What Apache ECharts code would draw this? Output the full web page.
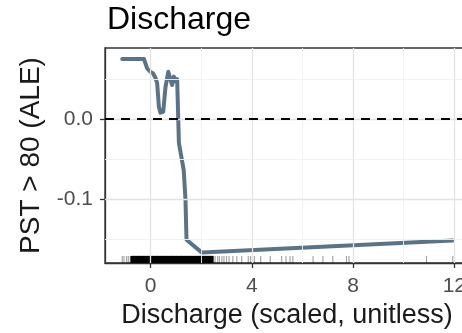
<!DOCTYPE html>
<html>
<head>
<meta charset="utf-8">
<script src="https://cdn.jsdelivr.net/npm/echarts@6/dist/echarts.min.js"></script>
<style>
  html, body { margin: 0; padding: 0; background: #fff; }
  #chart { width: 462px; height: 333px; }
</style>
</head>
<body>
<div id="chart"></div>
<script>
// Accumulated local effect of scaled discharge on P(PST > 80)
const dischargeX = [-1.12, -0.26, -0.13, 0, 0.1, 0.2, 0.26, 0.33, 0.39, 0.5, 0.59, 0.7, 0.79, 0.85, 0.92, 0.98, 1.05, 1.12, 1.31, 1.38, 1.42, 2.03, 11.94];
const aleY = [0.075, 0.075, 0.063, 0.059, 0.057, 0.051, 0.045, 0.015, 0.008, 0.009, 0.040, 0.059, 0.049, 0.0425, 0.053, 0.047, 0.05, -0.03, -0.064, -0.101, -0.151, -0.167, -0.152];

// Observed discharge values shown as a rug along the x axis
const rugDense = [-0.75, -0.7, -0.65, -0.6, -0.55, -0.5, -0.45, -0.4, -0.35, -0.3, -0.25, -0.2, -0.15, -0.1, -0.05, 0, 0.05, 0.1, 0.15, 0.2, 0.25, 0.3, 0.35, 0.4, 0.45, 0.5, 0.55, 0.6, 0.65, 0.7, 0.75, 0.8, 0.85, 0.9, 0.95, 1.0, 1.05, 1.1, 1.15, 1.2, 1.25, 1.3, 1.35, 1.4, 1.45, 1.5, 1.55, 1.6, 1.65, 1.7, 1.75, 1.8, 1.85, 1.9, 1.95, 2.0, 2.05, 2.1, 2.15, 2.2, 2.25, 2.3, 2.35, 2.4, 2.45];
const rugSparse = [-1.12, -1.05, -0.95, -0.88, -0.8, 2.55, 2.65, 2.72, 2.82, 2.9, 3.0, 3.1, 3.25, 3.41, 3.6, 3.86, 3.95, 4.1, 4.35, 4.73, 5.18, 5.35, 5.51, 5.62, 6.42, 6.81, 7.2, 7.74, 7.84, 10.9, 11.94];

// Tick and grid positions
const xTicks = [0, 4, 8, 12];
const xMinorGrid = [2, 6, 10];
const yTicks = [-0.1, 0];
const yMinorGrid = [-0.15, -0.05, 0.05];

const X_MIN = -1.8, X_MAX = 12.58;
const Y_MIN = -0.18, Y_MAX = 0.0888;
const RUG_Y = -0.1755;

const chart = echarts.init(document.getElementById('chart'), null, { renderer: 'canvas' });

const gridLine = (c, w) => ({ lineStyle: { color: c, width: w, type: 'solid' } });

const gridMarks = [
  ...xMinorGrid.map(v => ({ xAxis: v, ...gridLine('#f0f0f0', 0.9) })),
  ...yMinorGrid.map(v => ({ yAxis: v, ...gridLine('#f0f0f0', 0.9) })),
  ...xTicks.map(v => ({ xAxis: v, ...gridLine('#e3e3e3', 1.3) })),
  ...yTicks.map(v => ({ yAxis: v, ...gridLine('#e3e3e3', 1.3) }))
];

chart.setOption({
  animation: false,
  backgroundColor: '#ffffff',
  title: {
    text: 'Discharge',
    left: 102,
    top: -1,
    textStyle: { fontFamily: 'Liberation Sans', fontSize: 32, fontWeight: 'normal', color: '#000' }
  },
  grid: {
    left: 105, top: 48, width: 364, height: 215,
    outerBoundsMode: 'none',
    show: true, borderColor: '#333333', borderWidth: 1.3, backgroundColor: '#fff'
  },
  xAxis: {
    type: 'value', min: X_MIN, max: X_MAX,
    name: 'Discharge (scaled, unitless)',
    nameLocation: 'middle', nameGap: 39,
    nameTextStyle: { fontFamily: 'Liberation Sans', fontSize: 27, color: '#1a1a1a' },
    axisLine: { show: true, onZero: false, lineStyle: { color: '#333333', width: 1.3 } },
    axisTick: { show: true, length: 5, customValues: xTicks, lineStyle: { color: '#333333', width: 1.3 } },
    axisLabel: { customValues: xTicks, margin: 13, fontFamily: 'Liberation Sans', fontSize: 21, color: '#4d4d4d' },
    splitLine: { show: false }
  },
  yAxis: {
    type: 'value', min: Y_MIN, max: Y_MAX,
    name: 'PST > 80 (ALE)',
    nameLocation: 'middle', nameGap: 60,
    nameTextStyle: { fontFamily: 'Liberation Sans', fontSize: 28, color: '#1a1a1a' },
    axisLine: { show: true, onZero: false, lineStyle: { color: '#333333', width: 1.3 } },
    axisTick: { show: true, length: 5, customValues: yTicks, lineStyle: { color: '#333333', width: 1.3 } },
    axisLabel: {
      customValues: yTicks, margin: 12,
      fontFamily: 'Liberation Sans', fontSize: 21, color: '#4d4d4d',
      formatter: v => v.toFixed(1)
    },
    splitLine: { show: false }
  },
  series: [
    {
      // panel grid lines and the zero reference line
      type: 'line', data: [], z: 1, silent: true,
      markLine: {
        silent: true, symbol: 'none', label: { show: false },
        data: [
          ...gridMarks,
          { yAxis: 0, lineStyle: { color: '#000', width: 2, type: [9, 7] } }
        ]
      }
    },
    {
      type: 'scatter', z: 2, silent: true,
      symbol: 'rect', symbolSize: [2.2, 7],
      itemStyle: { color: '#000', opacity: 1 },
      data: rugDense.map(v => [v, RUG_Y])
    },
    {
      type: 'scatter', z: 2, silent: true,
      symbol: 'rect', symbolSize: [1.2, 7],
      itemStyle: { color: '#000', opacity: 0.35 },
      data: rugSparse.map(v => [v, RUG_Y])
    },
    {
      type: 'line', z: 3, silent: true, showSymbol: false,
      lineStyle: { color: '#5b7386', width: 4, join: 'round', cap: 'round' },
      data: dischargeX.map((x, i) => [x, aleY[i]])
    }
  ]
});
</script>
</body>
</html>
